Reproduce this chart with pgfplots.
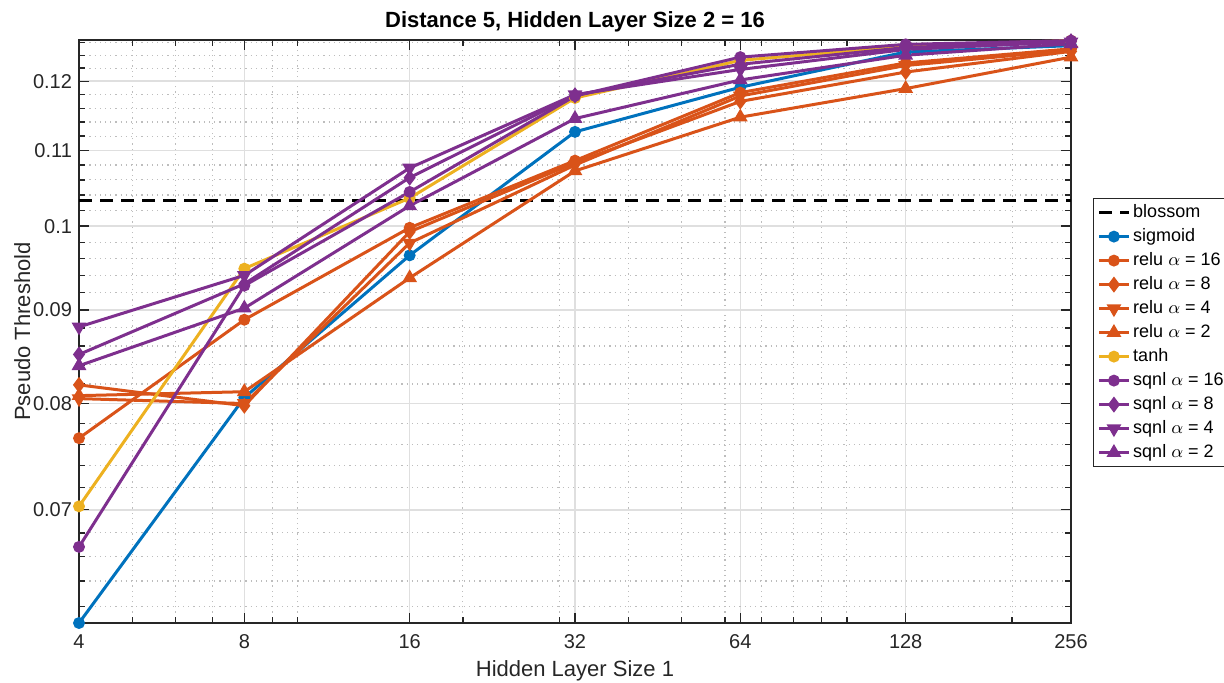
\documentclass[border=0pt]{standalone}
\usepackage{fontspec}
\setmainfont{Liberation Sans}
\usepackage{pgfplots}
\pgfplotsset{compat=1.18}
\usepackage{pgfplotstable}

\definecolor{mblue}{rgb}{0,0.447,0.741}
\definecolor{morange}{rgb}{0.85,0.325,0.098}
\definecolor{myellow}{rgb}{0.929,0.694,0.125}
\definecolor{mpurple}{rgb}{0.494,0.184,0.556}
\definecolor{maxis}{rgb}{0.15,0.15,0.15}
\definecolor{mgrid}{rgb}{0.875,0.875,0.875}
\definecolor{mminor}{rgb}{0.74,0.74,0.74}

% pseudo threshold against the size of the first hidden layer
\pgfplotstableread{
x   sigmoid relu16 relu8  relu4  relu2  tanh   sqnl16 sqnl8  sqnl4  sqnl2
4   0.0607  0.0766 0.0819 0.0805 0.0808 0.0703 0.0668 0.0851 0.0881 0.0839
8   0.0806  0.0889 0.0798 0.0800 0.0812 0.0948 0.0928 0.0930 0.0940 0.0902
16  0.0964  0.0998 0.0993 0.0979 0.0937 0.1036 0.1044 0.1063 0.1076 0.1026
32  0.1126  0.1086 0.1083 0.1080 0.1072 0.1175 0.1178 0.1179 0.1180 0.1145
64  0.1191  0.1183 0.1170 0.1178 0.1147 0.1232 0.1237 0.1226 0.1218 0.1202
128 0.1245  0.1228 0.1214 0.1224 0.1189 0.1254 0.1257 0.1252 0.1249 0.1240
256 0.1255  0.1250 0.1246 0.1248 0.1237 0.1263 0.1263 0.1262 0.1261 0.1258
}\data

\begin{document}
\begin{tikzpicture}
\path[use as bounding box] (-39.5pt,-30pt) rectangle (572.5pt,311.5pt);
\begin{axis}[
  at={(0,0)}, anchor=south west,
  scale only axis, width=496pt, height=291.5pt,
  xmode=log, ymode=log,
  xmin=4, xmax=256, ymin=0.0607, ymax=0.1264,
  xtick={4,8,16,32,64,128,256},
  xticklabels={4,8,16,32,64,128,256},
  minor xtick={5,6,7,9,10,20,30,40,50,60,70,80,90,100,200},
  ytick={0.07,0.08,0.09,0.1,0.11,0.12},
  yticklabels={0.07,0.08,0.09,0.1,0.11,0.12},
  minor ytick={0.062,0.064,0.066,0.068,0.072,0.074,0.076,0.078,
               0.082,0.084,0.086,0.088,0.092,0.094,0.096,0.098,
               0.102,0.104,0.106,0.108,0.112,0.114,0.116,0.118,
               0.122,0.124,0.126},
  grid=both,
  major grid style={line width=0.8pt, color=mgrid},
  minor grid style={line width=0.6pt, color=mminor, dotted},
  tick align=inside,
  major tick length=5pt, minor tick length=3pt,
  tick style={line width=0.7pt, color=maxis},
  axis line style={line width=0.8pt, color=maxis},
  /pgf/number format/assume math mode=true,
  ticklabel style={font=\fontsize{10}{12}\selectfont, color=maxis},
  xticklabel style={anchor=base, yshift=-12.5pt},
  yticklabel style={anchor=east},
  title={\textbf{Distance 5, Hidden Layer Size 2 = 16}},
  title style={font=\fontsize{11}{13}\selectfont, at={(axis description cs:0.5,1)}, anchor=base, yshift=0pt},
  xlabel={Hidden Layer Size 1},
  ylabel={Pseudo Threshold},
  label style={font=\fontsize{11}{13}\selectfont, color=maxis},
  xlabel style={at={(axis description cs:0.5,0)}, anchor=base, yshift=-26.5pt},
  ylabel style={at={(axis description cs:0,0.5)}, anchor=base, yshift=24.5pt},
  clip=false,
  legend style={at={(1.0222,0.729)}, anchor=north west,
    font=\fontsize{9}{10}\selectfont, draw=maxis, line width=0.6pt,
    inner xsep=2pt, inner ysep=1pt, row sep=0pt,
    nodes={inner sep=1.5pt, text height=7pt, text depth=2pt}},
  legend cell align=left,
  legend image code/.code={\draw[mark repeat=2,mark phase=2] plot coordinates {(0cm,0cm) (0.26cm,0cm) (0.52cm,0cm)};},
  every axis plot/.append style={line width=1.5pt},
]
\addplot[black, dash pattern=on 6.5pt off 4pt] coordinates {(4,0.1033) (256,0.1033)};
\addlegendentry{blossom}
\addplot[mblue, mark=*, mark size=2.2pt, mark options={solid}] table[x=x,y=sigmoid]{\data};
\addlegendentry{sigmoid}
\addplot[morange, mark=*, mark size=2.2pt, mark options={solid}] table[x=x,y=relu16]{\data};
\addlegendentry{relu $\alpha$ = 16}
\addplot[morange, mark=diamond*, mark size=2.8pt, mark options={solid}] table[x=x,y=relu8]{\data};
\addlegendentry{relu $\alpha$ = 8}
\addplot[morange, mark=triangle*, mark size=2.8pt, mark options={solid, rotate=180}] table[x=x,y=relu4]{\data};
\addlegendentry{relu $\alpha$ = 4}
\addplot[morange, mark=triangle*, mark size=2.8pt, mark options={solid}] table[x=x,y=relu2]{\data};
\addlegendentry{relu $\alpha$ = 2}
\addplot[myellow, mark=*, mark size=2.2pt, mark options={solid}] table[x=x,y=tanh]{\data};
\addlegendentry{tanh}
\addplot[mpurple, mark=*, mark size=2.2pt, mark options={solid}] table[x=x,y=sqnl16]{\data};
\addlegendentry{sqnl $\alpha$ = 16}
\addplot[mpurple, mark=diamond*, mark size=2.8pt, mark options={solid}] table[x=x,y=sqnl8]{\data};
\addlegendentry{sqnl $\alpha$ = 8}
\addplot[mpurple, mark=triangle*, mark size=2.8pt, mark options={solid, rotate=180}] table[x=x,y=sqnl4]{\data};
\addlegendentry{sqnl $\alpha$ = 4}
\addplot[mpurple, mark=triangle*, mark size=2.8pt, mark options={solid}] table[x=x,y=sqnl2]{\data};
\addlegendentry{sqnl $\alpha$ = 2}
\end{axis}
\end{tikzpicture}
\end{document}
